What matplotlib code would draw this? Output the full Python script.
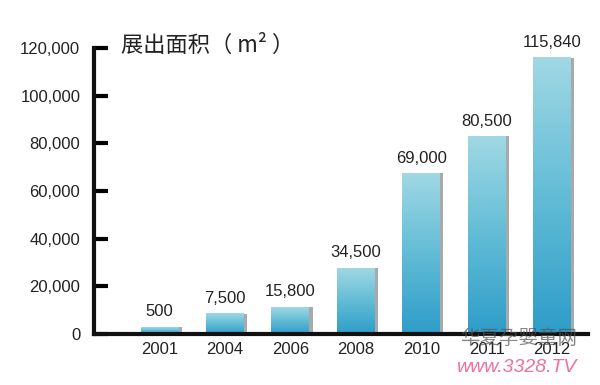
import numpy as np
import matplotlib.pyplot as plt
from matplotlib.patches import Rectangle
from matplotlib.colors import LinearSegmentedColormap

plt.rcParams['font.family'] = ['Liberation Sans', 'Noto Sans CJK SC', 'DejaVu Sans']

years = ['2001', '2004', '2006', '2008', '2010', '2011', '2012']
labels = ['500', '7,500', '15,800', '34,500', '69,000', '80,500', '115,840']
# bar heights as drawn in the picture (not always equal to the printed labels)
heights = [2900, 8400, 11300, 27700, 67500, 83000, 116000]
yticks = [0, 20000, 40000, 60000, 80000, 100000, 120000]

fig = plt.figure(figsize=(6, 3.85), dpi=100)
ax = fig.add_axes([0.157, 0.1325, 0.823, 0.7425])

cmap = LinearSegmentedColormap.from_list('bar', ['#2e9dc9', '#62bcd6', '#a0d8e4'])
grad = np.linspace(0, 1, 256).reshape(-1, 1)

x = np.arange(len(years))
w = 0.58
sw = 0.05
for xi, h, lab in zip(x, heights, labels):
    # shadow on the right side
    ax.add_patch(Rectangle((xi + w / 2, 0), sw, h, color='#a9a9a9', lw=0, zorder=1))
    ax.imshow(grad, cmap=cmap, origin='lower', aspect='auto',
              extent=(xi - w / 2, xi + w / 2, 0, h), zorder=2)
    ax.text(xi, h + 3200, lab, ha='center', va='bottom', fontsize=12, color='#222222')

ax.set_xlim(-1, 6.55)
ax.set_ylim(0, 120000)
ax.set_yticks(yticks)
ax.set_yticklabels([f'{v:,}' for v in yticks], fontsize=12, color='#222222')
ax.set_xticks(x)
ax.set_xticklabels(years, fontsize=12, color='#222222')
ax.tick_params(axis='y', direction='in', length=10, width=3, pad=10)
ax.tick_params(axis='x', length=0, pad=6)
for s in ['top', 'right']:
    ax.spines[s].set_visible(False)
ax.spines['left'].set_linewidth(3)
ax.spines['bottom'].set_linewidth(3)
ax.spines['left'].set_color('#111111')
ax.spines['bottom'].set_color('#111111')
ax.spines['bottom'].set_zorder(5)

fig.text(0.202, 0.882, '展出面积（ m² ）', fontsize=16, ha='left', va='center',
         family=['Noto Sans CJK SC', 'DejaVu Sans'], color='#222222')

# watermark
fig.text(0.865, 0.12, '华夏孕婴童网', fontsize=14, ha='center', va='center',
         family=['Noto Sans CJK SC', 'DejaVu Sans'], color='#555555', alpha=0.7, zorder=10)
fig.text(0.86, 0.045, 'www.3328.TV', fontsize=14, ha='center', va='center',
         style='italic', color='#f06ea0', zorder=10)

fig.savefig('out.png', dpi=100)
